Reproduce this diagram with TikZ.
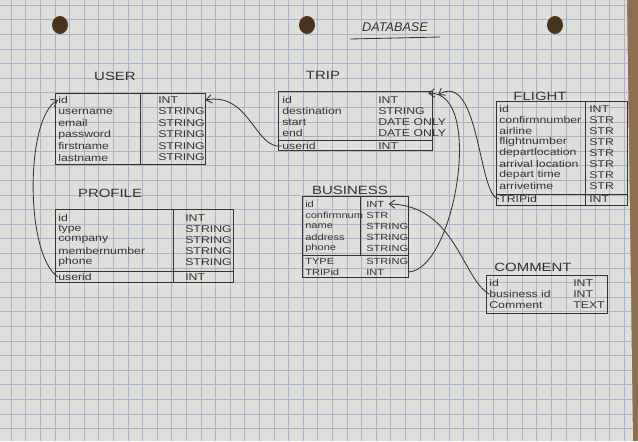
\documentclass[tikz,border=0pt]{standalone}
\usepackage{fontspec}
\setmainfont{Liberation Sans}
\newfontfamily\hand{Liberation Sans}[FakeStretch=1.25]
\usetikzlibrary{arrows.meta,fit}

\definecolor{desk}{RGB}{140,110,80}
\definecolor{paper}{RGB}{222,222,218}
\definecolor{gridline}{RGB}{170,178,205}
\definecolor{pencil}{RGB}{55,50,48}
\definecolor{hole}{RGB}{75,52,30}

\tikzset{
  tbl/.style={draw=pencil, line width=0.6pt, inner sep=0pt},
  pen/.style={draw=pencil, line width=0.6pt},
  fld/.style={anchor=west, inner sep=0pt, text=pencil, font=\hand\fontsize{7}{8}\selectfont},
  small/.style={font=\hand\fontsize{6.3}{7}\selectfont},
  ttl/.style={inner sep=0pt, text=pencil, font=\hand\fontsize{8.5}{10}\selectfont},
}

\begin{document}
\begin{tikzpicture}[x=0.025cm, y=-0.025cm, >={Straight Barb[length=4pt,width=6pt]}]
  \fill[desk] (0,0) rectangle (638,441);
  \fill[paper] (0,0) -- (627,0) -- (633,441) -- (0,441) -- cycle;

  % squared paper
  \begin{scope}
    \clip (0,0) -- (627,0) -- (633,441) -- (0,441) -- cycle;
    \foreach \x in {0,...,43}
      \draw[gridline, line width=0.35pt] (11+\x*14.6,0) -- (11+\x*14.6,441);
    \foreach \y in {0,...,30}
      \draw[gridline, line width=0.35pt] (0,5+\y*14.6) -- (638,5+\y*14.6);
  \end{scope}

  \foreach \x in {60,307,555}
    \fill[hole] (\x,25) ellipse (8 and 9);

  \node[ttl, font=\itshape\fontsize{9}{10}\selectfont] (db) at (395,27) {DATABASE};
  \draw[pen] (350,39) -- (440,37);

  % USER
  \node[ttl] (user-title) at (115,76) {USER};
  \node[tbl, fit={(55,93) (205,164)}] (user) {};
  \draw[pen] (140,93) -- (140,164);
  \foreach \n/\t [count=\i] in {id/INT, username/STRING, email/STRING, password/STRING, firstname/STRING, lastname/STRING}
  { \node[fld] (user-\i) at (58,88.5+\i*11.5) {\n};
    \node[fld] (user-t\i) at (158,88.5+\i*11.5) {\t};}

  % TRIP
  \node[ttl] (trip-title) at (323,75) {TRIP};
  \node[tbl, fit={(278,91) (432,150)}] (trip) {};
  \draw[pen] (278,140) -- (432,140);
  \foreach \n/\t/\y [count=\i] in {id/INT/100, destination/STRING/111, start/DATE ONLY/122, end/DATE ONLY/133, userid/INT/146}
  { \node[fld] (trip-\i) at (282,\y) {\n};
    \node[fld] (trip-t\i) at (378,\y) {\t};}

  % FLIGHT
  \node[ttl] (flight-title) at (540,96) {FLIGHT};
  \node[tbl, fit={(496,101) (627,205)}] (flight) {};
  \draw[pen] (585,101) -- (585,205);
  \draw[pen] (496,194) -- (627,194);
  \foreach \n/\t/\y [count=\i] in {id/INT/109, confirmnumber/STR/120, airline/STR/131, flightnumber/STR/142, departlocation/STR/153, arrival location/STR/164, depart time/STR/175, arrivetime/STR/186, TRIPid/INT/199}
  { \node[fld] (flight-\i) at (499,\y) {\n};
    \node[fld] (flight-t\i) at (589,\y) {\t};}

  % PROFILE
  \node[ttl] (profile-title) at (110,193) {PROFILE};
  \node[tbl, fit={(55,209) (233,282)}] (profile) {};
  \draw[pen] (173,209) -- (173,282);
  \draw[pen] (55,271) -- (233,271);
  \foreach \n/\t/\y [count=\i] in {id/INT/218, type/STRING/229, company/STRING/240, membernumber/STRING/251, phone/STRING/262, userid/INT/277}
  { \node[fld] (profile-\i) at (58,\y) {\n};
    \node[fld] (profile-t\i) at (185,\y) {\t};}

  % BUSINESS
  \node[ttl] (business-title) at (350,190) {BUSINESS};
  \node[tbl, fit={(302,196) (408,277)}] (business) {};
  \draw[pen] (360,196) -- (360,255);
  \draw[pen] (302,255) -- (408,255);
  \foreach \n/\t/\y [count=\i] in {id/INT/204, confirmnum/STR/215, name/STRING/226, address/STRING/237, phone/STRING/248, TYPE/STRING/261, TRIPid/INT/272}
  { \node[fld, small] (business-\i) at (305,\y) {\n};
    \node[fld, small] (business-t\i) at (366,\y) {\t};}

  % COMMENT
  \node[ttl] (comment-title) at (533,267) {COMMENT};
  \node[tbl, fit={(486,275) (607,313)}] (comment) {};
  \foreach \n/\t/\y [count=\i] in {id/INT/283, business id/INT/294, Comment/TEXT/305}
  { \node[fld] (comment-\i) at (489,\y) {\n};
    \node[fld] (comment-t\i) at (573,\y) {\t};}

  % links
  \draw[pen,->] (profile-6.west) .. controls (25,255) and (25,118) .. (user-1.west);
  \draw[pen,->] (trip-5.west) .. controls (255,150) and (250,92) .. (user.east |- user-1);
  \draw[pen,->] (flight-9.west) .. controls (478,198) and (480,70) .. ([xshift=4pt,yshift=-3pt]trip.north east);
  \draw[pen,->] (business.east |- business-7) .. controls (455,270) and (485,90) .. ([xshift=-3pt,yshift=-2pt]trip.north east);
  \draw[pen,->] (comment-2.west) .. controls (462,278) and (455,205) .. ([xshift=3pt]business-t1.east);
\end{tikzpicture}
\end{document}
